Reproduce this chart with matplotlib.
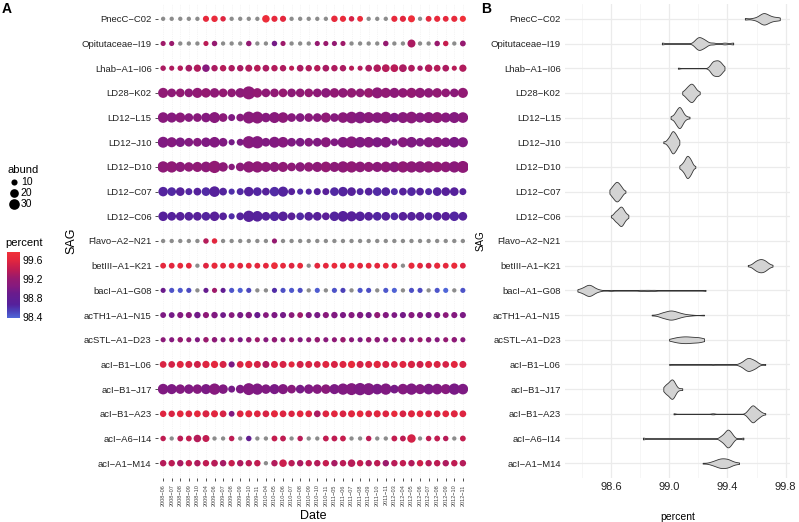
import numpy as np
import matplotlib
matplotlib.use("Agg")
import matplotlib.pyplot as plt
from matplotlib.colors import LinearSegmentedColormap, Normalize
from matplotlib.cm import ScalarMappable

plt.rcParams['font.family'] = ['Liberation Sans', 'DejaVu Sans']

N = np.nan

dates = ["2008−06", "2008−07", "2008−08", "2008−09", "2008−10",
         "2009−04", "2009−06", "2009−07", "2009−08", "2009−09", "2009−10", "2009−11",
         "2010−04", "2010−05", "2010−06", "2010−07", "2010−08", "2010−09", "2010−10", "2010−11",
         "2011−05", "2011−06", "2011−07", "2011−08", "2011−09", "2011−10", "2011−11",
         "2012−03", "2012−04", "2012−05", "2012−06", "2012−07", "2012−08", "2012−09", "2012−10", "2012−11"]

sags = ["PnecC−C02", "Opitutaceae−I19", "Lhab−A1−I06", "LD28−K02", "LD12−L15", "LD12−J10",
        "LD12−D10", "LD12−C07", "LD12−C06", "Flavo−A2−N21", "betIII−A1−K21", "bacI−A1−G08",
        "acTH1−A1−N15", "acSTL−A1−D23", "acI−B1−L06", "acI−B1−J17", "acI−B1−A23",
        "acI−A6−I14", "acI−A1−M14"]

# percent identity per date (N = no value, drawn grey)
pct_pnecc = [N, N, N, N, N, 99.65, 99.68, 99.58, N, N, N, N, 99.72, 99.64, 99.62, N, N, N, N, N,
             99.66, 99.69, 99.52, 99.70, N, N, N, 99.65, 99.61, 99.74, N, 99.63, 99.67, 99.64, 99.66, 99.76]
pct_opitu = [99.25, 99.22, N, N, N, 99.38, 99.20, N, N, N, 99.18, N, N, 98.95, 99.24, N, N, N, 99.20, 99.22,
             99.18, 99.25, N, N, N, N, 99.20, N, N, 99.30, N, N, 99.22, 99.44, N, 99.20]
pct_lhab = [99.30, 99.32, 99.34, 99.28, 99.33, 99.06, 99.30, 99.35, 99.31, 99.29, 99.33, 99.36,
            99.30, 99.34, 99.32, 99.38, 99.30, 99.33, 99.35, 99.29, 99.32, 99.30, 99.36, 99.34,
            99.31, 99.33, 99.35, 99.37, 99.30, 99.32, 99.28, 99.34, 99.35, 99.31, 99.36, 99.33]
pct_ld28 = [99.15, 99.13, 99.17, 99.12, 99.16, 99.19, 99.14, 99.18, 99.15, 99.11, 99.13, 99.17,
            99.14, 99.16, 99.20, 99.12, 99.15, 99.18, 99.13, 99.09, 99.16, 99.14, 99.17, 99.15,
            99.21, 99.13, 99.16, 99.11, 99.15, 99.18, 99.14, 99.12, 99.17, 99.15, 99.10, 99.16]
pct_l15 = [99.07, 99.05, 99.09, 99.06, 99.08, 99.04, 99.07, 99.10, 99.01, 99.06, 99.08, 99.09,
           99.05, 99.07, 99.11, 99.06, 99.03, 99.08, 99.07, 99.14, 99.05, 99.09, 99.07, 99.04,
           99.08, 99.06, 99.10, 99.02, 99.07, 99.09, 99.05, 99.08, 99.12, 99.06, 99.04, 99.07]
pct_j10 = [99.02, 99.04, 99.00, 99.03, 99.05, 99.01, 99.03, 99.02, 98.96, 99.00, 99.06, 99.04,
           99.02, 99.03, 99.05, 99.01, 98.99, 99.04, 99.02, 99.07, 99.01, 99.03, 99.05, 99.02,
           99.04, 99.00, 99.03, 98.98, 99.05, 99.02, 99.01, 99.04, 99.06, 99.03, 98.99, 99.02]
pct_d10 = [99.12, 99.14, 99.10, 99.13, 99.15, 99.11, 99.16, 99.12, 99.07, 99.10, 99.13, 99.14,
           99.12, 99.11, 99.15, 99.13, 99.09, 99.14, 99.12, 99.18, 99.11, 99.13, 99.15, 99.12,
           99.14, 99.10, 99.13, 99.08, 99.15, 99.12, 99.11, 99.14, 99.16, 99.13, 99.09, 99.12]
pct_c07 = [98.64, 98.62, 98.66, 98.63, 98.65, 98.61, 98.67, 98.64, 98.59, 98.62, 98.65, 98.63,
           98.66, 98.61, 98.64, 98.68, 98.60, 98.63, 98.65, 98.70, 98.62, 98.64, 98.66, 98.63,
           98.65, 98.61, 98.64, 98.60, 98.67, 98.63, 98.65, 98.62, 98.64, 98.68, 98.67, 98.66]
pct_c06 = [98.67, 98.65, 98.68, 98.66, 98.69, 98.64, 98.70, 98.67, 98.60, 98.65, 98.68, 98.66,
           98.67, 98.63, 98.68, 98.71, 98.62, 98.66, 98.69, 98.72, 98.64, 98.67, 98.68, 98.65,
           98.66, 98.63, 98.67, 98.62, 98.69, 98.66, 98.68, 98.64, 98.67, 98.70, 98.63, 98.65]
pct_flavo = [N, N, N, N, N, 99.35, 99.60, N, N, N, N, N, N, 99.20, N, N, N, N, N, N,
             N, N, N, N, N, N, N, N, N, N, N, N, N, N, N, N]
pct_betiii = [99.63, 99.60, 99.65, 99.62, N, 99.58, 99.66, 99.61, 99.64, 99.59, 99.67, 99.62,
              99.63, 99.71, 99.64, 99.57, 99.65, N, 99.61, 99.63, 99.68, 99.60, 99.66, 99.59,
              99.64, 99.62, 99.67, 99.60, N, 99.65, 99.61, 99.54, 99.66, 99.63, 99.69, 99.58]
pct_baci = [98.90, 98.45, 98.42, 98.48, N, 98.85, 99.25, 98.80, 98.44, 98.40, 98.50, N,
            N, 98.60, 98.46, 98.43, 98.47, N, 98.41, N, 98.45, 98.52, N, 98.44,
            98.47, N, 98.43, 98.39, N, 98.46, 98.48, N, 98.44, 98.37, N, 98.45]
pct_acth1 = [99.00, 98.96, 99.04, 99.08, 98.94, 99.12, 99.02, 98.93, 99.06, 98.98, 99.03, 98.88,
             99.05, 99.00, 98.95, 99.10, 99.24, 99.01, 98.97, 99.07, 99.02, 98.99, 99.05, 99.01,
             98.96, 99.15, 99.03, 99.00, 98.95, 99.06, 99.02, 98.98, 99.01, 99.09, 99.04, 98.99]
pct_acstl = [99.10, 99.05, 99.20, 99.15, 99.02, 99.22, 99.12, 99.08, 99.18, 99.00, 99.14, 99.24,
             99.06, 99.16, 99.10, 99.20, 99.04, 99.12, 99.19, 99.08, 99.14, 99.22, 99.10, 99.03,
             99.17, 99.12, 99.06, 99.20, 99.15, 99.09, 99.23, 99.11, 99.05, 99.18, 99.13, 99.07]
pct_l06 = [99.55, 99.51, 99.58, 99.54, 99.49, 99.57, 99.61, 99.53, 99.00, 99.55, 99.59, 99.52,
           99.30, 99.56, 99.53, 99.60, 99.50, 99.55, 99.52, 99.58, 99.54, 99.57, 99.66, 99.51,
           99.56, 99.59, 99.53, 99.55, 99.58, 99.54, 99.48, 99.57, 99.55, 99.52, 99.60, 99.54]
pct_j17 = [99.02, 99.00, 99.03, 99.01, 99.04, 98.99, 99.05, 99.02, 98.96, 99.00, 99.03, 99.01,
           99.02, 98.98, 99.03, 99.07, 98.97, 99.01, 99.04, 99.09, 98.99, 99.02, 99.03, 99.00,
           99.01, 98.98, 99.02, 98.97, 99.04, 99.01, 99.03, 98.99, 99.02, 99.05, 98.98, 99.00]
pct_a23 = [99.58, 99.55, 99.61, 99.57, 99.63, 99.55, 99.59, 99.53, 99.03, 99.57, 99.61, 99.58,
           99.54, 99.62, 99.57, 99.56, 99.60, 99.58, 99.30, 99.57, 99.60, 99.55, 99.59, 99.63,
           99.56, 99.59, 99.57, 99.66, 99.54, 99.58, 99.61, 99.57, 99.55, 99.60, 99.58, 99.57]
pct_i14 = [99.40, N, 99.38, 99.42, 99.35, 99.41, N, N, 99.39, N, 98.82, N,
           N, 99.43, 99.40, N, 99.37, N, N, 99.41, 99.40, 99.44, N, N,
           99.38, N, N, 99.42, 99.39, 99.51, N, 99.40, 99.41, 99.36, N, 99.43]
pct_m14 = [99.35, 99.38, 99.30, 99.42, 99.33, 99.40, 99.36, 99.28, 99.44, 99.32, 99.38, 99.41,
           N, 99.34, 99.46, 99.37, 99.31, 99.40, 99.35, 99.43, 99.29, 99.38, 99.36, 99.42,
           99.33, 99.39, 99.23, 99.37, 99.41, 99.34, 99.48, 99.36, 99.39, 99.32, 99.40, 99.35]

# abundance per date (point size)
ab_pnecc = [5, 5, 5, 5, 5, 10, 11, 8, 5, 5, 5, 5, 15, 10, 10, 5, 5, 5, 5, 5,
            11, 10, 8, 9, 5, 5, 5, 10, 10, 13, 5, 9, 10, 9, 10, 10]
ab_opitu = [7, 7, 5, 5, 5, 7, 8, 5, 5, 5, 8, 5, 5, 8, 7, 5, 5, 5, 7, 7,
            7, 7, 5, 5, 5, 5, 8, 5, 5, 17, 5, 5, 8, 8, 5, 9]
ab_lhab = [8, 7, 8, 12, 14, 15, 11, 11, 11, 11, 13, 12, 12, 11, 11, 7, 12, 11, 11, 12,
           11, 11, 7, 7, 12, 15, 16, 16, 16, 12, 8, 15, 12, 12, 7, 14]
ab_ld28 = [27, 20, 20, 20, 27, 24, 24, 20, 20, 24, 45, 24, 20, 20, 20, 20, 20, 20, 20, 24,
           24, 24, 24, 20, 24, 32, 27, 27, 24, 27, 27, 24, 24, 20, 20, 27]
ab_l15 = [30, 27, 27, 20, 20, 24, 32, 20, 13, 16, 38, 38, 24, 32, 30, 20, 20, 20, 20, 27,
          20, 30, 36, 36, 32, 30, 36, 24, 32, 36, 27, 32, 32, 27, 32, 30]
ab_j10 = [32, 27, 24, 20, 20, 24, 30, 20, 10, 13, 40, 40, 20, 32, 30, 20, 20, 20, 20, 27,
          16, 30, 36, 30, 30, 27, 30, 13, 27, 30, 20, 27, 30, 24, 30, 27]
ab_d10 = [34, 34, 27, 24, 27, 30, 40, 24, 11, 20, 34, 34, 27, 27, 27, 20, 24, 24, 27, 30,
          27, 34, 34, 30, 27, 27, 30, 30, 34, 34, 34, 34, 30, 30, 34, 38]
ab_c07 = [24, 20, 20, 13, 16, 20, 30, 16, 10, 13, 24, 20, 16, 24, 27, 13, 10, 10, 13, 13,
          20, 24, 20, 13, 16, 20, 20, 13, 16, 20, 16, 13, 20, 20, 20, 13]
ab_c06 = [24, 20, 20, 20, 20, 20, 24, 16, 10, 16, 34, 30, 20, 24, 24, 16, 16, 20, 20, 16,
          24, 30, 27, 24, 20, 20, 20, 16, 20, 20, 20, 16, 20, 20, 24, 20]
ab_flavo = [5, 5, 5, 5, 5, 8, 8, 5, 5, 5, 5, 5, 5, 7, 5, 5, 5, 5, 5, 5,
            5, 5, 5, 5, 5, 5, 5, 5, 5, 5, 5, 5, 5, 5, 5, 5]
ab_betiii = [9, 9, 9, 9, 5, 9, 10, 9, 9, 9, 9, 9, 9, 12, 9, 9, 9, 5, 9, 9,
             9, 10, 9, 9, 9, 9, 9, 9, 5, 10, 9, 9, 10, 9, 10, 9]
ab_baci = [7, 7, 7, 7, 5, 7, 7, 7, 7, 7, 7, 5, 5, 7, 7, 7, 7, 5, 7, 5,
           7, 7, 5, 7, 7, 5, 7, 7, 5, 7, 7, 5, 7, 7, 5, 7]
ab_acth1 = [9, 9, 10, 10, 11, 10, 11, 9, 9, 10, 11, 10, 9, 10, 10, 9, 9, 10, 10, 10,
            11, 10, 10, 11, 10, 10, 10, 9, 10, 10, 10, 10, 10, 9, 10, 10]
ab_acstl = [7, 7, 8, 7, 7, 8, 8, 7, 7, 7, 8, 7, 7, 8, 7, 7, 7, 7, 8, 7,
            7, 8, 7, 7, 8, 8, 7, 7, 8, 7, 7, 8, 7, 7, 8, 7]
ab_l06 = [12, 12, 13, 13, 13, 14, 14, 13, 10, 12, 14, 13, 13, 13, 13, 10, 13, 13, 12, 13,
          13, 13, 14, 13, 13, 14, 13, 12, 13, 14, 13, 13, 13, 12, 13, 13]
ab_j17 = [30, 27, 24, 24, 24, 27, 34, 24, 13, 20, 38, 34, 24, 27, 27, 20, 20, 24, 24, 24,
          27, 34, 38, 40, 38, 30, 34, 20, 30, 34, 27, 30, 30, 27, 34, 30]
ab_a23 = [11, 11, 12, 12, 12, 13, 13, 12, 9, 12, 13, 12, 12, 13, 12, 11, 12, 12, 12, 12,
          12, 12, 13, 12, 12, 13, 12, 11, 12, 13, 12, 12, 12, 12, 13, 12]
ab_i14 = [8, 5, 9, 9, 15, 13, 5, 5, 8, 5, 8, 5, 5, 9, 9, 5, 8, 5, 5, 9,
          9, 9, 5, 5, 8, 5, 5, 9, 9, 19, 5, 8, 9, 8, 5, 9]
ab_m14 = [11, 11, 11, 11, 11, 11, 12, 11, 11, 11, 11, 11, 5, 11, 15, 11, 11, 11, 11, 11,
          11, 11, 15, 11, 11, 11, 11, 11, 11, 11, 11, 11, 11, 11, 11, 11]

pct_rows = [pct_pnecc, pct_opitu, pct_lhab, pct_ld28, pct_l15, pct_j10, pct_d10, pct_c07, pct_c06,
            pct_flavo, pct_betiii, pct_baci, pct_acth1, pct_acstl, pct_l06, pct_j17, pct_a23,
            pct_i14, pct_m14]
ab_rows = [ab_pnecc, ab_opitu, ab_lhab, ab_ld28, ab_l15, ab_j10, ab_d10, ab_c07, ab_c06,
           ab_flavo, ab_betiii, ab_baci, ab_acth1, ab_acstl, ab_l06, ab_j17, ab_a23,
           ab_i14, ab_m14]

pct = np.array(pct_rows, dtype=float)
ab = np.array(ab_rows, dtype=float)

vmin, vmax = 98.37, 99.77
stops = [(98.37, "#4f66d8"), (98.52, "#4b40b8"), (98.65, "#55219c"), (98.9, "#6a1b8c"),
         (99.05, "#861a7e"), (99.2, "#951a70"), (99.4, "#bf1c52"), (99.6, "#e2263e"),
         (99.77, "#f03039")]
cmap = LinearSegmentedColormap.from_list(
    "pct", [((v - vmin) / (vmax - vmin), c) for v, c in stops])
norm = Normalize(vmin, vmax)

fig = plt.figure(figsize=(7.99, 5.22), dpi=100)
W, H = 799, 522
axA = fig.add_axes([158 / W, 1 - 478 / H, 310 / W, 474 / H])
axB = fig.add_axes([565 / W, 1 - 478 / H, 225 / W, 474 / H])

# ---- panel A: dot matrix
ncol = len(dates)
nrow = len(sags)
xx, yy = np.meshgrid(np.arange(ncol), np.arange(nrow))
size_k = 1.95
for i in range(ncol):
    axA.axvline(i, color="#ececec", lw=0.5, ls=":", zorder=0)
for j in range(nrow):
    axA.axhline(j, color="#ececec", lw=0.5, ls=":", zorder=0)

na = np.isnan(pct)
axA.scatter(xx[na], yy[na], s=size_k * ab[na], color="#8c8c8c", linewidths=0, zorder=2)
axA.scatter(xx[~na], yy[~na], s=size_k * ab[~na], c=pct[~na], cmap=cmap, norm=norm,
            linewidths=0, zorder=3)

axA.set_xlim(-0.6, ncol - 0.4)
axA.set_ylim(nrow - 0.4, -0.6)
axA.set_xticks(range(ncol))
axA.set_xticklabels(dates, rotation=90, fontsize=4, color="#444444")
axA.set_yticks(range(nrow))
axA.set_yticklabels(sags, fontsize=6.8, color="#222222")
axA.tick_params(length=2.5, width=0.6, color="#333333", pad=2)
axA.set_xlabel("Date", fontsize=9, labelpad=3)
axA.set_ylabel("SAG", fontsize=9, labelpad=3)
for s in axA.spines.values():
    s.set_visible(False)

# ---- panel B: violins (gaussian kde, bw.nrd0, trimmed, area scaled)
dens_list = []
for j in range(nrow):
    v = pct[j][~np.isnan(pct[j])]
    if len(v) < 4:
        dens_list.append(None)
        continue
    sd = np.std(v, ddof=1)
    iqr = np.subtract(*np.percentile(v, [75, 25]))
    lo = min(sd, iqr / 1.34) if iqr > 0 else sd
    bw = 0.9 * lo * len(v) ** -0.2
    grid = np.linspace(v.min(), v.max(), 512)
    d = np.exp(-0.5 * ((grid[:, None] - v[None, :]) / bw) ** 2).sum(1) / (len(v) * bw * np.sqrt(2 * np.pi))
    dens_list.append((grid, d))
dmax = max(g[1].max() for g in dens_list if g is not None)
for j, g in enumerate(dens_list):
    if g is None:
        continue
    grid, d = g
    half = 0.45 * d / dmax
    axB.fill_between(grid, j - half, j + half, facecolor="#d3d3d3", edgecolor="#333333",
                     lw=0.6, zorder=3)

axB.set_xlim(98.285, 99.83)
axB.set_ylim(nrow - 0.4, -0.6)
axB.set_xticks([98.6, 99.0, 99.4, 99.8])
axB.set_xticks([98.4, 98.8, 99.2, 99.6], minor=True)
axB.set_xticklabels(["98.6", "99.0", "99.4", "99.8"], fontsize=8, color="#222222")
axB.set_yticks(range(nrow))
axB.set_yticklabels(sags, fontsize=6.8, color="#222222")
axB.grid(True, which="major", color="#ebebeb", lw=0.9)
axB.grid(True, which="minor", axis="x", color="#f3f3f3", lw=0.5)
axB.set_axisbelow(True)
axB.tick_params(which="both", length=0, pad=3)
axB.set_xlabel("percent", fontsize=7.5, labelpad=14)
axB.set_ylabel("SAG", fontsize=7, labelpad=4)
for s in axB.spines.values():
    s.set_visible(False)

# ---- legends
handles = [axA.scatter([], [], s=size_k * v, color="black", linewidths=0) for v in (10, 20, 30)]
leg = fig.legend(handles, ["10", "20", "30"], title="abund", loc="upper left",
                 bbox_to_anchor=(0.0, 1 - 158 / H), frameon=False, fontsize=7.5,
                 title_fontsize=8, handletextpad=0.1, labelspacing=0.12,
                 borderpad=0.2, handlelength=1.2, alignment="left")

cax = fig.add_axes([7 / W, 1 - 318 / H, 13 / W, 66 / H])
cb = fig.colorbar(ScalarMappable(norm=norm, cmap=cmap), cax=cax, ticks=[98.4, 98.8, 99.2, 99.6])
cb.outline.set_visible(False)
cb.ax.tick_params(labelsize=7.5, length=0, pad=2)
cb.ax.set_yticklabels(["98.4", "98.8", "99.2", "99.6"])
fig.text(5 / W, 1 - 243 / H, "percent", fontsize=8, va="center")

fig.text(2 / W, 1 - 2 / H, "A", fontsize=10, fontweight="bold", va="top")
fig.text(481 / W, 1 - 2 / H, "B", fontsize=10, fontweight="bold", va="top")

fig.savefig("out.png", dpi=100)
